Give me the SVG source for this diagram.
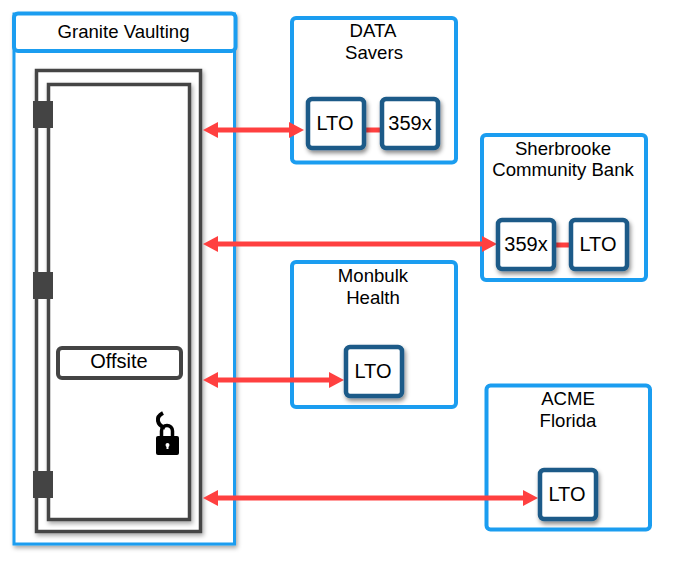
<svg xmlns="http://www.w3.org/2000/svg" width="700" height="569" viewBox="0 0 700 569">
<style>
text{font-family:"Liberation Sans",Arial,sans-serif;font-size:18.6px;fill:#000;text-anchor:middle}
.big{font-size:20px}
.blue{fill:#fff;stroke:#1b9df0;stroke-width:4}
.dev{fill:#fff;stroke:#1a5a88;stroke-width:4.500;filter:url(#sh)}
.door{fill:#fff;stroke:#444;stroke-width:3.500;filter:url(#sh2)}
.hinge{fill:#444}
.arrow{fill:none;stroke:#ff4040;stroke-width:5;marker-start:url(#ah);marker-end:url(#ah)}
.link{fill:none;stroke:#ff4040;stroke-width:5}
</style>
<defs>
<filter id="sh" x="-20%" y="-20%" width="145%" height="145%"><feDropShadow dx="1.500" dy="3" stdDeviation="2" flood-color="#000" flood-opacity=".45"/></filter>
<filter id="sh2" x="-5%" y="-5%" width="112%" height="112%"><feDropShadow dx="1.500" dy="2.500" stdDeviation="2" flood-color="#000" flood-opacity=".35"/></filter>
<marker id="ah" markerUnits="userSpaceOnUse" markerWidth="16" markerHeight="16" refX="8" refY="8" orient="auto-start-reverse"><path d="M0 0L15 8L0 16Z" fill="#ff4040"/></marker>
</defs>
<g id="granite">
<rect x="14" y="14" width="220.500" height="530" class="blue" style="stroke-width:3;filter:url(#sh2)"/>
<rect x="36.500" y="70.500" width="164" height="461" class="door"/>
<rect x="48.500" y="84.500" width="141" height="435" class="door"/>
<rect x="33" y="101" width="20" height="27" class="hinge"/>
<rect x="33" y="272" width="20" height="27" class="hinge"/>
<rect x="33" y="471" width="20" height="27" class="hinge"/>
<rect x="14" y="13.500" width="221.500" height="37.500" rx="4" class="blue"/>
<text x="123.500" y="38">Granite Vaulting</text>
</g>
<g id="offsite">
<rect x="58" y="348" width="123" height="30" rx="4" fill="#fff" stroke="#444" stroke-width="4"/>
<text class="big" x="119" y="368">Offsite</text>
</g>
<g id="lock">
<rect x="156" y="436" width="23" height="19" rx="2" fill="#000"/>
<path d="M161.500 437V431a5.500 5.500 0 0 1 11 0V437" fill="none" stroke="#000" stroke-width="3.500"/>
<path d="M165 428C157 425 155 417 163 413" fill="none" stroke="#000" stroke-width="4"/>
<circle cx="167.500" cy="445" r="2" fill="#fff"/><rect x="166.500" y="445" width="2" height="4" fill="#fff"/>
</g>
<g id="data-savers">
<rect x="292" y="18" width="164" height="144.500" rx="4" class="blue"/>
<text x="373" y="37">DATA</text><text x="374" y="59">Savers</text>
</g>
<g id="sherbrooke">
<rect x="482" y="135" width="164" height="145" rx="4" class="blue"/>
<text x="563" y="155">Sherbrooke</text><text x="563" y="176">Community Bank</text>
</g>
<g id="monbulk">
<rect x="292" y="262" width="164" height="145" rx="4" class="blue"/>
<text x="373" y="282">Monbulk</text><text x="373" y="304">Health</text>
</g>
<g id="acme">
<rect x="486.500" y="385.500" width="163.500" height="144" rx="4" class="blue"/>
<text x="568" y="405">ACME</text><text x="568" y="427">Florida</text>
</g>
<g id="connectors">
<path class="link" d="M364 130H382"/>
<path class="link" d="M554 245H571"/>
<path class="arrow" d="M210 130H297"/>
<path class="arrow" d="M210 244H490"/>
<path class="arrow" d="M210 380H337"/>
<path class="arrow" d="M210 498H531"/>
</g>
<g id="dlto"><rect x="308" y="99" width="56" height="49" rx="4" class="dev"/><text class="big" x="335" y="130">LTO</text></g>
<g id="d359"><rect x="382" y="99" width="56" height="49" rx="4" class="dev"/><text class="big" x="410" y="130">359x</text></g>
<g id="s359"><rect x="498" y="220" width="56" height="49" rx="4" class="dev"/><text class="big" x="526" y="251">359x</text></g>
<g id="slto"><rect x="571" y="220" width="56" height="49" rx="4" class="dev"/><text class="big" x="598" y="251">LTO</text></g>
<g id="mlto"><rect x="346" y="347" width="56" height="49" rx="4" class="dev"/><text class="big" x="373" y="378">LTO</text></g>
<g id="alto"><rect x="540" y="470" width="56" height="49" rx="4" class="dev"/><text class="big" x="567" y="501">LTO</text></g>
</svg>
